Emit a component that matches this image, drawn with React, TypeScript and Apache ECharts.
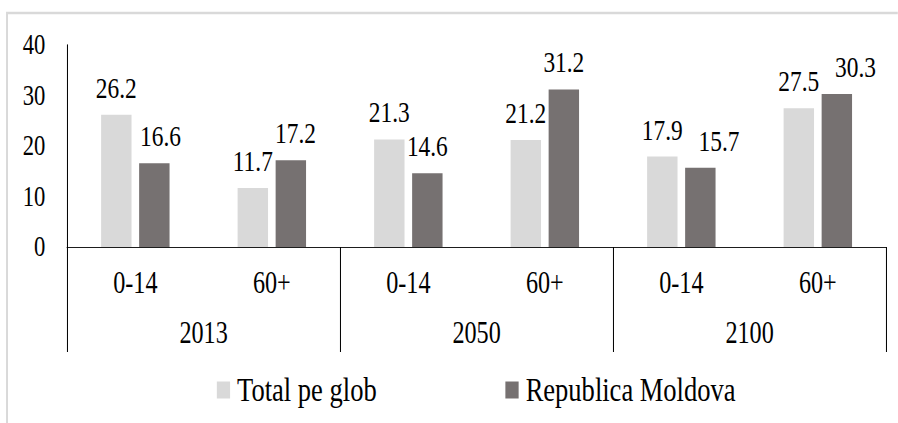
import React, { useEffect, useRef } from "react";
import * as echarts from "echarts";

const ageGroups = ["0-14", "60+", "0-14", "60+", "0-14", "60+"];
const years = ["2013", "2050", "2100"];
const seriesNames = ["Total pe glob", "Republica Moldova"];
const totalPeGlob = [26.2, 11.7, 21.3, 21.2, 17.9, 27.5];
const republicaMoldova = [16.6, 17.2, 14.6, 31.2, 15.7, 30.3];
const yTicks = { min: 0, max: 40, interval: 10 };

// label nudges (styling only, in chart px before horizontal squeeze)
const moldovaLabelShift = [8, 6, 0, 0, 24, 24];

const SX = 0.78;
const W = Math.round(898 / SX);
const H = 423;
const FONT = "Times New Roman, Liberation Serif, serif";

export default function App() {
  const ref = useRef<HTMLDivElement>(null);
  useEffect(() => {
    if (!ref.current) return;
    const chart = echarts.init(ref.current, null, { renderer: "svg" });
    const labelCfg = {
      show: true,
      position: "top",
      distance: 12,
      fontSize: 30,
      fontFamily: FONT,
      color: "#000",
      formatter: (p: any) => Number(p.value).toFixed(1),
    };
    chart.setOption({
      animation: false,
      backgroundColor: "#fff",
      textStyle: { fontFamily: FONT },
      graphic: [
        {
          type: "rect",
          shape: { x: 9, y: 13, width: 1300, height: 600 },
          style: { fill: "none", stroke: "#d9d9d9", lineWidth: 2.5 },
          silent: true,
        },
      ],
      grid: { left: 86, right: W - 1136, top: 45, bottom: H - 247, containLabel: false },
      legend: {
        data: seriesNames,
        left: 278,
        top: 373,
        padding: 0,
        icon: "rect",
        itemWidth: 17,
        itemHeight: 17,
        itemGap: 165,
        textStyle: { fontSize: 34, fontFamily: FONT, color: "#000", padding: [0, 0, 0, 4] },
      },
      xAxis: [
        {
          type: "category",
          data: ageGroups,
          axisLine: { show: true, lineStyle: { color: "#000", width: 1 } },
          axisTick: { show: false },
          axisLabel: { interval: 0, fontSize: 31, fontFamily: FONT, color: "#000", margin: 20 },
          splitLine: { show: false },
        },
        {
          type: "category",
          data: years,
          position: "bottom",
          axisLine: { show: false },
          axisTick: { show: true, length: 105, lineStyle: { color: "#000", width: 1.3 } },
          axisLabel: { interval: 0, fontSize: 31, fontFamily: FONT, color: "#000", margin: 70 },
          splitLine: { show: false },
        },
      ],
      yAxis: {
        type: "value",
        min: yTicks.min,
        max: yTicks.max,
        interval: yTicks.interval,
        axisLine: { show: true, lineStyle: { color: "#000", width: 1.3 } },
        axisTick: { show: false },
        splitLine: { show: false },
        axisLabel: { fontSize: 29, fontFamily: FONT, color: "#000", margin: 28 },
      },
      series: [
        {
          name: seriesNames[0],
          type: "bar",
          xAxisIndex: 0,
          data: totalPeGlob,
          barWidth: 39,
          barGap: "25%",
          itemStyle: { color: "#d9d9d9" },
          label: labelCfg,
        },
        {
          name: seriesNames[1],
          type: "bar",
          xAxisIndex: 0,
          data: republicaMoldova.map((v, i) => ({
            value: v,
            label: { offset: [moldovaLabelShift[i], 0] },
          })),
          barWidth: 39,
          barGap: "25%",
          itemStyle: { color: "#767171" },
          label: labelCfg,
        },
      ],
    });
    return () => chart.dispose();
  }, []);
  return (
    <div style={{ position: "absolute", left: 0, top: 0, width: 898, height: H, overflow: "hidden", background: "#fff" }}>
      <div
        ref={ref}
        style={{ width: W, height: H, transform: `scaleX(${SX})`, transformOrigin: "0 0" }}
      />
    </div>
  );
}
